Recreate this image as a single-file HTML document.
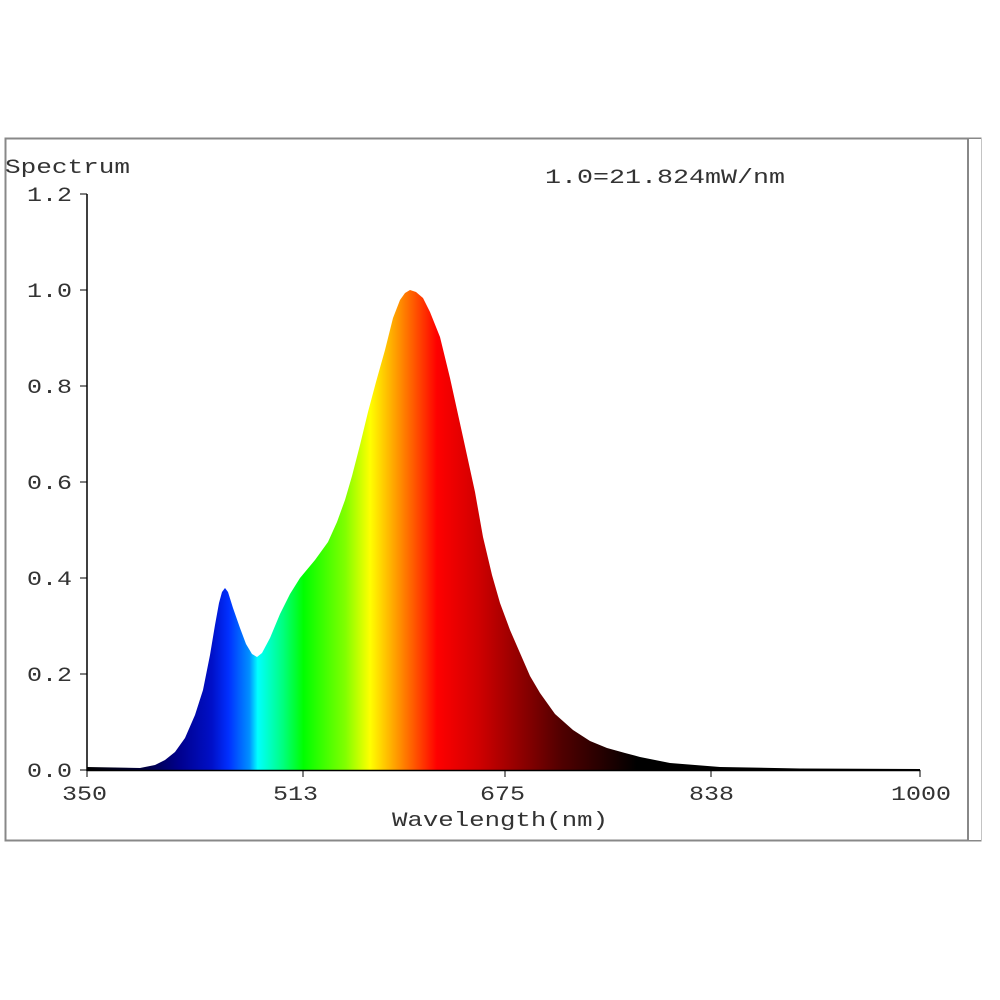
<!DOCTYPE html>
<html><head><meta charset="utf-8"><style>
html,body{margin:0;padding:0;background:#fff;}
svg{display:block;}
text{font-family:"Liberation Mono",monospace;fill:#333;}
</style></head><body>
<svg width="1000" height="1000" viewBox="0 0 1000 1000" xmlns="http://www.w3.org/2000/svg">
<defs>
<linearGradient id="g" gradientUnits="userSpaceOnUse" x1="87" y1="0" x2="920" y2="0">
<stop offset="0" stop-color="#000"/>
<stop offset="0.07" stop-color="#000040"/>
<stop offset="0.11" stop-color="#00008c"/>
<stop offset="0.15" stop-color="#0010c8"/>
<stop offset="0.17" stop-color="#0030ff"/>
<stop offset="0.195" stop-color="#0090ff"/>
<stop offset="0.205" stop-color="#00ffff"/>
<stop offset="0.235" stop-color="#00ff80"/>
<stop offset="0.26" stop-color="#00ff00"/>
<stop offset="0.31" stop-color="#80ff00"/>
<stop offset="0.34" stop-color="#ffff00"/>
<stop offset="0.37" stop-color="#ffa000"/>
<stop offset="0.39" stop-color="#ff6000"/>
<stop offset="0.42" stop-color="#ff0000"/>
<stop offset="0.47" stop-color="#d00000"/>
<stop offset="0.52" stop-color="#900000"/>
<stop offset="0.57" stop-color="#500000"/>
<stop offset="0.66" stop-color="#000"/>
<stop offset="1" stop-color="#000"/>
</linearGradient>
</defs>
<rect x="5.5" y="138.5" width="975" height="702" fill="none" stroke="#888" stroke-width="2"/>
<line x1="968" y1="138" x2="968" y2="840" stroke="#888" stroke-width="2"/>
<rect x="969" y="139" width="12" height="701" fill="#fff"/>
<path fill="url(#g)" d="M87,770 L87,767 L140,768 L155,765 L165,760 L175,752 L185,738 L195,715 L203,690 L210,655 L215,625 L219,603 L222,592 L225,588 L228,592 L233,608 L240,628 L246,644 L252,654 L257,657 L262,653 L270,638 L280,614 L290,594 L300,578 L315,560 L328,542 L337,522 L345,500 L352,476 L360,445 L368,412 L376,382 L385,350 L393,318 L400,300 L405,293 L410,290 L416,292 L423,298 L430,312 L440,337 L450,378 L463,437 L475,492 L483,537 L492,575 L500,603 L510,630 L520,653 L530,676 L540,693 L555,714 L573,730 L590,741 L607,748 L625,753 L640,757 L670,763 L720,767 L800,768.5 L920,769 L920,770 Z"/>
<line x1="87" y1="194" x2="87" y2="771" stroke="#000" stroke-width="1.5"/>
<line x1="87" y1="770.5" x2="920" y2="770.5" stroke="#000" stroke-width="1.5"/>
<g stroke="#000" stroke-width="1">
<line x1="80" y1="194" x2="87" y2="194"/><line x1="80" y1="290" x2="87" y2="290"/>
<line x1="80" y1="386" x2="87" y2="386"/><line x1="80" y1="482" x2="87" y2="482"/>
<line x1="80" y1="578" x2="87" y2="578"/><line x1="80" y1="674" x2="87" y2="674"/>
<line x1="80" y1="770" x2="87" y2="770"/>
<line x1="87" y1="770" x2="87" y2="777"/><line x1="303" y1="770" x2="303" y2="777"/>
<line x1="505" y1="770" x2="505" y2="777"/><line x1="711" y1="770" x2="711" y2="777"/>
<line x1="920" y1="770" x2="920" y2="777"/>
</g>
<g font-size="20" lengthAdjust="spacingAndGlyphs">
<text x="27" y="201" textLength="45" lengthAdjust="spacingAndGlyphs">1.2</text>
<text x="27" y="297" textLength="45" lengthAdjust="spacingAndGlyphs">1.0</text>
<text x="27" y="393" textLength="45" lengthAdjust="spacingAndGlyphs">0.8</text>
<text x="27" y="489" textLength="45" lengthAdjust="spacingAndGlyphs">0.6</text>
<text x="27" y="585" textLength="45" lengthAdjust="spacingAndGlyphs">0.4</text>
<text x="27" y="681" textLength="45" lengthAdjust="spacingAndGlyphs">0.2</text>
<text x="27" y="777" textLength="45" lengthAdjust="spacingAndGlyphs">0.0</text>
<text x="62" y="800" textLength="45" lengthAdjust="spacingAndGlyphs">350</text>
<text x="273" y="800" textLength="45" lengthAdjust="spacingAndGlyphs">513</text>
<text x="480" y="800" textLength="45" lengthAdjust="spacingAndGlyphs">675</text>
<text x="689" y="800" textLength="45" lengthAdjust="spacingAndGlyphs">838</text>
<text x="891" y="800" textLength="60" lengthAdjust="spacingAndGlyphs">1000</text>
<text x="392" y="826" textLength="216" lengthAdjust="spacingAndGlyphs">Wavelength(nm)</text>
<text x="5" y="173" textLength="125" lengthAdjust="spacingAndGlyphs">Spectrum</text>
<text x="545" y="183" textLength="240" lengthAdjust="spacingAndGlyphs">1.0=21.824mW/nm</text>
</g>
</svg>
</body></html>
